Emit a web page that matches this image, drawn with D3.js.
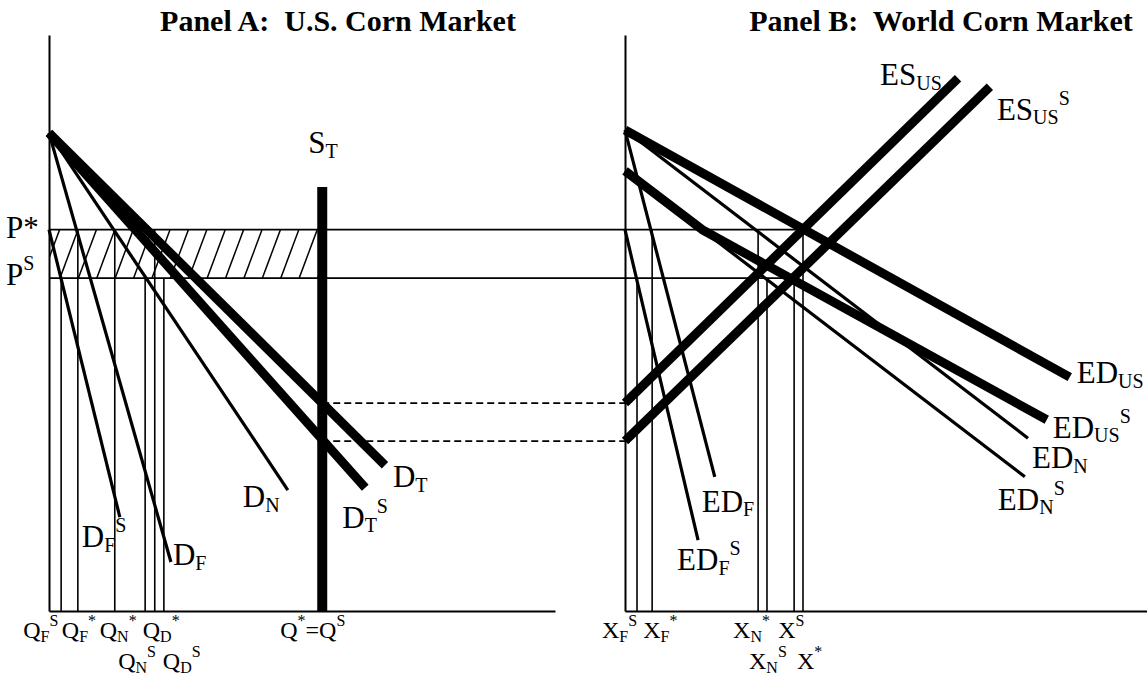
<!DOCTYPE html>
<html>
<head>
<meta charset="utf-8">
<script src="https://cdn.jsdelivr.net/npm/d3@7"></script>
<style>
body { margin: 0; background: #fff; }
text { font-family: "Liberation Serif", "Times New Roman", serif; fill: #000; }
</style>
</head>
<body>
<svg id="chart"></svg>
<script>
// prices (0-100 scale)
var pTopA = 83, pTopB = 83.5, pStar = 66.2, pSub = 57.8, pSubTop = 76.4;
var pSTtop = 73.6, pEq = 36.1, pEqS = 29.5;
var qST = 54;

// Panel A curves  [quantity, price]
var dFS = [[0, 66.2], [14.0, 16.3]];
var dF  = [[0, 83], [24.1, 8.5]];
var dN  = [[0, 83], [47.2, 21.0]];
var dT  = [[0, 83], [66.4, 25.3]];
var dTS = [[0, 83], [62.5, 21.4]];
var sT  = [[54, 0], [54, 73.6]];

// Panel B curves
var esUS  = [[0, 36.1], [63.8, 92.5]];
var esUSS = [[0, 29.5], [69.9, 91.0]];
var edUS  = [[0, 83.5], [85.2, 40.6]];
var edUSS = [[0, 76.4], [14.8, 66.2], [80.8, 33.2]];
var edN   = [[0, 83.5], [77.2, 30.0]];
var edNS  = [[0, 76.4], [76.6, 23.3]];
var edF   = [[0, 83.5], [17.2, 23.3]];
var edFS  = [[0, 66.2], [14.0, 12.3]];

// quantity ticks
var qTicks  = [2.4, 5.7, 13.0, 19.0, 20.9, 22.7];
var qLevel  = ["S", "*", "*", "S", "*", "S"];
var qLabels = ["Q_F^S", "Q_F^*", "Q_N^*", "Q_N^S", "Q_D^*", "Q_D^S"];
var xTicks  = [2.3, 5.2, 25.5, 27.2, 32.4, 34.1];
var xLevel  = ["S", "*", "*", "S", "S", "*"];
var xLabels = ["X_F^S", "X_F^*", "X_N^*", "X_N^S", "X^S", "X^*"];

var W = 1147, H = 679;
var svg = d3.select("#chart").attr("width", W).attr("height", H);

var y  = d3.scaleLinear().domain([0, 100]).range([611, 35]);
var xA = d3.scaleLinear().domain([0, 100]).range([49, 555]);
var xB = d3.scaleLinear().domain([0, 100]).range([625, 1147]);

function lineA(pts) { return d3.line().x(d => xA(d[0])).y(d => y(d[1]))(pts); }
function lineB(pts) { return d3.line().x(d => xB(d[0])).y(d => y(d[1]))(pts); }
function priceOf(l) { return l == "*" ? pStar : pSub; }

// hatched region between P* and PS
svg.append("clipPath").attr("id", "hclip")
  .append("rect")
  .attr("x", xA(0)).attr("y", y(pStar))
  .attr("width", xA(qST) - xA(0)).attr("height", y(pSub) - y(pStar));
var hatch = svg.append("g").attr("clip-path", "url(#hclip)");
d3.range(-2, 16).forEach(function(k) {
  var top = 78 + k * 18.4;
  hatch.append("line")
    .attr("x1", top - 18).attr("y1", y(pSub))
    .attr("x2", top).attr("y2", y(pStar))
    .attr("stroke", "#000").attr("stroke-width", 1.5);
});

// price lines across both panels
svg.append("line").attr("x1", xA(0)).attr("x2", xB(34.1))
  .attr("y1", y(pStar)).attr("y2", y(pStar))
  .attr("stroke", "#000").attr("stroke-width", 1.8);
svg.append("line").attr("x1", xA(0)).attr("x2", xB(32.4))
  .attr("y1", y(pSub)).attr("y2", y(pSub))
  .attr("stroke", "#000").attr("stroke-width", 1.8);

// dashed lines from S_T to the world market
[pEq, pEqS].forEach(function(p) {
  svg.append("line").attr("x1", xA(qST)).attr("x2", xB(0))
    .attr("y1", y(p)).attr("y2", y(p))
    .attr("stroke", "#000").attr("stroke-width", 1.8)
    .attr("stroke-dasharray", "7,4");
});

// vertical quantity lines
qTicks.forEach(function(q, i) {
  svg.append("line").attr("x1", xA(q)).attr("x2", xA(q))
    .attr("y1", y(0)).attr("y2", y(priceOf(qLevel[i])))
    .attr("stroke", "#000").attr("stroke-width", 1.6);
});
xTicks.forEach(function(q, i) {
  svg.append("line").attr("x1", xB(q)).attr("x2", xB(q))
    .attr("y1", y(0)).attr("y2", y(priceOf(xLevel[i])))
    .attr("stroke", "#000").attr("stroke-width", 1.6);
});

// curves
function draw(d, w) {
  svg.append("path").attr("d", d)
    .attr("fill", "none").attr("stroke", "#000")
    .attr("stroke-width", w).attr("stroke-linecap", "butt")
    .attr("stroke-linejoin", "round");
}
[dFS, dF, dN].forEach(c => draw(lineA(c), 3.2));
[dT, dTS].forEach(c => draw(lineA(c), 9));
draw(lineA(sT), 10);
[edN, edNS, edF, edFS].forEach(c => draw(lineB(c), 3.2));
[edUS, edUSS, esUS, esUSS].forEach(c => draw(lineB(c), 9));

// axes
function styleAxis(g) {
  g.select(".domain").attr("stroke-width", 2);
}
svg.append("g").attr("transform", `translate(${xA(0)},0)`)
  .call(d3.axisLeft(y).tickValues([]).tickSizeOuter(0)).call(styleAxis);
svg.append("g").attr("transform", `translate(0,${y(0)})`)
  .call(d3.axisBottom(xA).tickValues([]).tickSizeOuter(0)).call(styleAxis);
svg.append("g").attr("transform", `translate(${xB(0)},0)`)
  .call(d3.axisLeft(y).tickValues([]).tickSizeOuter(0)).call(styleAxis);
svg.append("g").attr("transform", `translate(0,${y(0)})`)
  .call(d3.axisBottom(xB).tickValues([]).tickSizeOuter(0)).call(styleAxis);

// text with sub/superscripts: "D_F^S", "ES_{US}^S"
function label(x, yy, str, size) {
  var small = Math.round(size * 0.66);
  var t = svg.append("text").attr("x", x).attr("y", yy)
    .style("font-size", size + "px");
  var re = /([_^])(\{[^}]*\}|.)|([^_^]+)/g, m, cur = 0;
  while ((m = re.exec(str)) !== null) {
    var txt, fs, shift;
    if (m[3]) { txt = m[3]; fs = size; shift = 0; }
    else {
      txt = m[2].replace(/[{}]/g, "");
      fs = small;
      shift = m[1] == "_" ? size * 0.15 : -size * 0.48;
    }
    t.append("tspan").attr("dy", shift - cur).style("font-size", fs + "px").text(txt);
    cur = shift;
  }
  return t;
}

// titles
svg.append("text").attr("x", 338).attr("y", 31).attr("text-anchor", "middle")
  .style("font-size", "30px").style("font-weight", "bold").style("white-space", "pre")
  .text("Panel A:  U.S. Corn Market");
svg.append("text").attr("x", 941).attr("y", 31).attr("text-anchor", "middle")
  .style("font-size", "30px").style("font-weight", "bold").style("white-space", "pre")
  .text("Panel B:  World Corn Market");

// price labels
label(6, y(pStar) + 8, "P*", 31);
label(6, y(pSub) + 7, "P^S", 31);

// panel A curve labels (offset from curve ends)
function endA(c) { var p = c[c.length - 1]; return [xA(p[0]), y(p[1])]; }
function endB(c) { var p = c[c.length - 1]; return [xB(p[0]), y(p[1])]; }
var e;
e = endA(dFS); label(e[0] - 38, e[1] + 30, "D_F^S", 31);
e = endA(dF);  label(e[0] + 2, e[1] + 3, "D_F", 31);
e = endA(dN);  label(e[0] - 45, e[1] + 17, "D_N", 31);
e = endA(dTS); label(e[0] - 23, e[1] + 40, "D_T^S", 31);
e = endA(dT);  label(e[0] + 8, e[1] + 22, "D_T", 31);
e = endA(sT);  label(e[0] - 14, e[1] - 34, "S_T", 31);

// panel B curve labels
e = endB(esUS);  label(e[0] - 78, e[1] + 7, "ES_{US}", 31);
e = endB(esUSS); label(e[0] + 7, e[1] + 33, "ES_{US}^S", 31);
e = endB(edUS);  label(e[0] + 7, e[1] + 6, "ED_{US}", 31);
e = endB(edUSS); label(e[0] + 6, e[1] + 18, "ED_{US}^S", 31);
e = endB(edN);   label(e[0] + 4, e[1] + 30, "ED_N", 31);
e = endB(edNS);  label(e[0] - 27, e[1] + 33, "ED_N^S", 31);
e = endB(edF);   label(e[0] - 13, e[1] + 35, "ED_F", 31);
e = endB(edFS);  label(e[0] - 21, e[1] + 30, "ED_F^S", 31);

// quantity tick labels (offset, row)
var qLabelDx  = [-38, -16, -15, -27, -12, -1];
var qLabelRow = [0, 0, 0, 1, 0, 1];
qTicks.forEach(function(q, i) {
  label(xA(q) + qLabelDx[i], y(0) + 27 + qLabelRow[i] * 31, qLabels[i], 24);
});
label(xA(qST) - 42, y(0) + 27, "Q^*=Q^S", 24);

var xLabelDx  = [-35, -9, -25, -18, -16, -6];
var xLabelRow = [0, 0, 0, 1, 0, 1];
xTicks.forEach(function(q, i) {
  label(xB(q) + xLabelDx[i], y(0) + 27 + xLabelRow[i] * 31, xLabels[i], 24);
});
</script>
</body>
</html>
